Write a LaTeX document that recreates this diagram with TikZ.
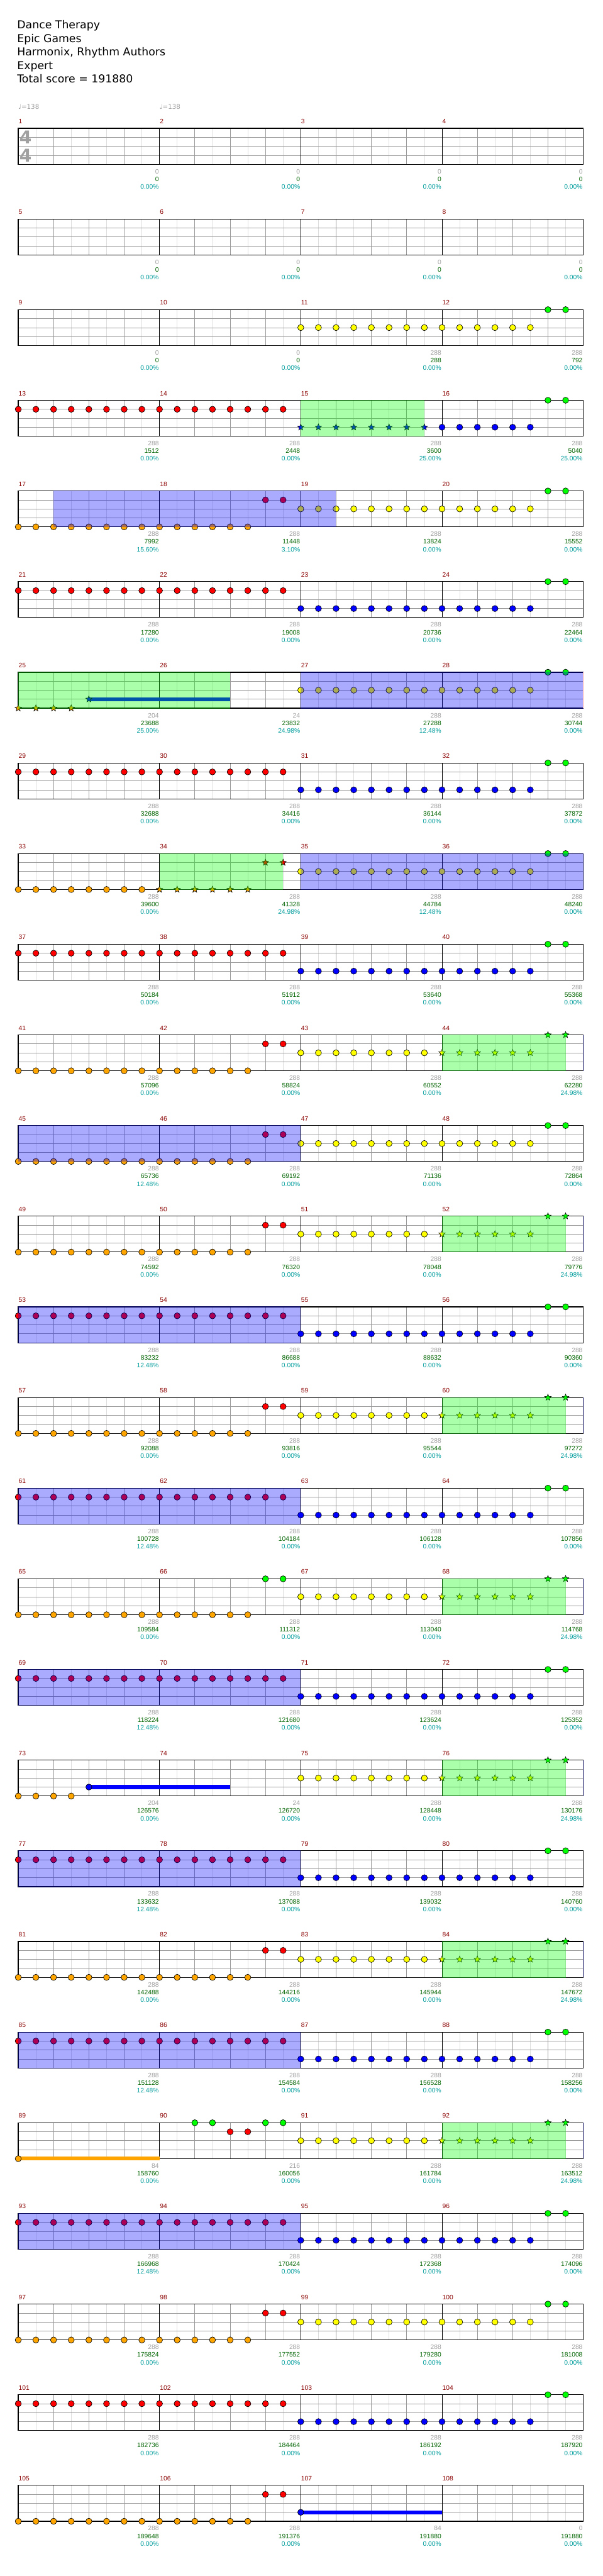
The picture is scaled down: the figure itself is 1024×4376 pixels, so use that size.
\documentclass[tikz,border=0pt]{standalone}
\usepackage{fontspec}
\setmainfont{Liberation Sans}
\newfontfamily\djv{DejaVu Sans}
\usetikzlibrary{shapes.geometric}
\definecolor{gridlt}{HTML}{DDDDDD}
\definecolor{gridmd}{HTML}{9A9A9A}
\definecolor{mnumc}{HTML}{8B0000}
\definecolor{lgray}{HTML}{A0A0A0}
\definecolor{lgreen}{HTML}{006400}
\definecolor{lteal}{HTML}{009C9C}
\definecolor{nred}{RGB}{255,0,0}
\definecolor{nyellow}{RGB}{255,255,0}
\definecolor{ngreen}{RGB}{0,255,0}
\definecolor{nblue}{RGB}{0,0,255}
\definecolor{norange}{RGB}{255,165,0}
\definecolor{navyedge}{RGB}{0,0,85}
\definecolor{pinkedge}{RGB}{255,170,170}
\tikzset{
  ltline/.style={gridlt,line width=0.8pt},
  mdline/.style={gridmd,line width=0.8pt},
  barline/.style={black,line width=0.8pt},
  frame/.style={black,line width=1.2pt},
  mnum/.style={anchor=base west,inner sep=0pt,text=mnumc,font=\fontsize{11}{13}\selectfont},
  labsty/.style={anchor=base east,inner sep=0pt,font=\fontsize{11}{13}\selectfont},
  starsty/.style={star,star points=5,star point ratio=2.3,minimum size=11.5pt,inner sep=0pt,draw=black,line width=0.6pt},
  hdr/.style={anchor=base west,inner sep=0pt,font=\djv\fontsize{18.5}{22}\selectfont},
  tsig/.style={inner sep=0pt,text=lgray,font=\djv\bfseries\fontsize{30}{30}\selectfont}
}
\newcommand\Grid[1]{%
  \pgfmathsetmacro\RowT{218+154*(#1-1)}%
  \pgfmathsetmacro\RowB{\RowT+61}%
  \foreach \i in {1,3,...,31} {\draw[ltline] ({31+30*\i},\RowT) -- ({31+30*\i},\RowB);}
  \foreach \i in {2,4,6,10,12,14,18,20,22,26,28,30} {\draw[mdline] ({31+30*\i},\RowT) -- ({31+30*\i},\RowB);}
  \foreach \l in {1,2,3} {\draw[mdline] (31,{\RowT+15.25*\l}) -- (991,{\RowT+15.25*\l});}
  \foreach \i in {8,16,24} {\draw[barline] ({31+30*\i},\RowT) -- ({31+30*\i},\RowB);}
  \draw[frame] (31,\RowT) rectangle (991,\RowB);
  \foreach \k in {0,1,2,3} {\pgfmathtruncatemacro\mn{4*(#1-1)+\k+1}\node[mnum] (m\mn) at ({31.5+240*\k},{\RowT-8}) {\mn};}
}
\newcommand\Nt[4]{\fill[#4,draw=black,line width=0.7pt] ({31+30*#2},{218+154*(#1-1)+15.25*#3}) circle[radius=5.2pt];}
\newcommand\Run[5]{\foreach \j in {#2,...,#3} {\Nt{#1}{\j}{#4}{#5}}}
\newcommand\St[4]{\node[starsty,fill=#4] at ({31+30*#2},{218+154*(#1-1)+15.25*#3}) {};}
\newcommand\Sts[5]{\foreach \j in {#2,...,#3} {\St{#1}{\j}{#4}{#5}}}
\newcommand\GReg[3]{\fill[green,fill opacity=0.333] (#2,{218+154*(#1-1)-0.6}) rectangle (#3,{218+154*(#1-1)+61.6});}
\newcommand\BReg[3]{\fill[blue,fill opacity=0.333] (#2,{218+154*(#1-1)-0.6}) rectangle (#3,{218+154*(#1-1)+61.6});}
\newcommand\Edge[2]{\draw[#2,line width=1.2pt] (991,{218+154*(#1-1)}) -- (991,{218+154*(#1-1)+61});}
\newcommand\Sus[5]{\pgfmathsetmacro\sy{218+154*(#1-1)+15.25*#4}\fill[#5] ({31+30*#2},{\sy-3.3}) rectangle (#3,{\sy+3.3});}
\newcommand\Lab[5]{%
  \pgfmathsetmacro\lx{31+240*#2-1}%
  \pgfmathsetmacro\ly{218+154*(#1-1)+61}%
  \node[labsty,text=lgray] (a#1-#2) at (\lx,{\ly+16}) {#3};
  \node[labsty,text=lgreen] (b#1-#2) at (\lx,{\ly+29}) {#4};
  \node[labsty,text=lteal] (c#1-#2) at (\lx,{\ly+42}) {#5\%};}
\newcommand\LabsStd[5]{\Lab{#1}{1}{288}{#2}{0.00}\Lab{#1}{2}{288}{#3}{0.00}\Lab{#1}{3}{288}{#4}{0.00}\Lab{#1}{4}{288}{#5}{0.00}}
\newcommand\LabsE[5]{\Lab{#1}{1}{288}{#2}{12.48}\Lab{#1}{2}{288}{#3}{0.00}\Lab{#1}{3}{288}{#4}{0.00}\Lab{#1}{4}{288}{#5}{0.00}}
\newcommand\LabsC[5]{\Lab{#1}{1}{288}{#2}{0.00}\Lab{#1}{2}{288}{#3}{0.00}\Lab{#1}{3}{288}{#4}{0.00}\Lab{#1}{4}{288}{#5}{24.98}}
\newcommand\PatA[1]{\Run{#1}{0}{15}{1}{nred}\Run{#1}{16}{29}{3}{nblue}\Run{#1}{30}{31}{0}{ngreen}}
\newcommand\PatE[1]{\PatA{#1}\BReg{#1}{31}{511}}
\newcommand\PatD[1]{\Run{#1}{0}{13}{4}{norange}\Run{#1}{14}{15}{1}{nred}\Run{#1}{16}{29}{2}{nyellow}\Run{#1}{30}{31}{0}{ngreen}}
\newcommand\PatC[1]{\Run{#1}{0}{13}{4}{norange}\Run{#1}{14}{15}{1}{nred}\Run{#1}{16}{23}{2}{nyellow}\Sts{#1}{24}{29}{2}{nyellow}\Sts{#1}{30}{31}{0}{ngreen}\GReg{#1}{751}{961}\Edge{#1}{navyedge}}
\begin{document}
\begin{tikzpicture}[x=1pt,y=-1pt]
\useasboundingbox (0,0) rectangle (1024,4376);
\fill[white] (0,0) rectangle (1024,4376);
% header
\node[hdr] (h1) at (29,49) {Dance Therapy};
\node[hdr] (h2) at (29,72) {Epic Games};
\node[hdr] (h3) at (29,95) {Harmonix, Rhythm Authors};
\node[hdr] (h4) at (29,118) {Expert};
\node[hdr] (h5) at (29,141) {Total score = 191880};
\node[anchor=base west,inner sep=0pt,text=lgray,font=\djv\fontsize{11}{13}\selectfont] (t1) at (31,185) {♩=138};
\node[anchor=base west,inner sep=0pt,text=lgray,font=\djv\fontsize{11}{13}\selectfont] (t2) at (271,185) {♩=138};
% grids
\foreach \r in {1,...,27} {\Grid{\r}}
\node[tsig] (ts1) at (43.5,233.5) {4};
\node[tsig] (ts2) at (43.5,264) {4};
% row 3
\Run{3}{16}{29}{2}{nyellow}\Run{3}{30}{31}{0}{ngreen}
% row 4
\Run{4}{0}{15}{1}{nred}\Sts{4}{16}{23}{3}{nblue}\Run{4}{24}{29}{3}{nblue}\Run{4}{30}{31}{0}{ngreen}\GReg{4}{511}{721}
% row 5
\PatD{5}\BReg{5}{91}{571}
% row 6
\PatA{6}
% row 7
\Sts{7}{0}{3}{4}{norange}\Sus{7}{4}{391}{3}{nblue}\St{7}{4}{3}{nblue}
\Run{7}{16}{29}{2}{nyellow}\Run{7}{30}{31}{0}{ngreen}\GReg{7}{31}{391}\BReg{7}{511}{991}\Edge{7}{pinkedge}
% row 8
\PatA{8}
% row 9
\Run{9}{0}{7}{4}{norange}\Sts{9}{8}{13}{4}{norange}\Sts{9}{14}{15}{1}{nred}
\Run{9}{16}{29}{2}{nyellow}\Run{9}{30}{31}{0}{ngreen}\GReg{9}{271}{481}\BReg{9}{511}{991}
% row 10
\PatA{10}
\PatC{11}
\PatD{12}\BReg{12}{31}{511}
\PatC{13}
\PatE{14}
\PatC{15}
\PatE{16}
% row 17
\Run{17}{0}{13}{4}{norange}\Run{17}{14}{15}{0}{ngreen}\Run{17}{16}{23}{2}{nyellow}\Sts{17}{24}{29}{2}{nyellow}\Sts{17}{30}{31}{0}{ngreen}\GReg{17}{751}{961}\Edge{17}{navyedge}
\PatE{18}
% row 19
\Run{19}{0}{3}{4}{norange}\Sus{19}{4}{391}{3}{nblue}\Nt{19}{4}{3}{nblue}
\Run{19}{16}{23}{2}{nyellow}\Sts{19}{24}{29}{2}{nyellow}\Sts{19}{30}{31}{0}{ngreen}\GReg{19}{751}{961}\Edge{19}{navyedge}
\PatE{20}
\PatC{21}
\PatE{22}
% row 23
\Sus{23}{0}{271}{4}{norange}\Nt{23}{0}{4}{norange}
\Run{23}{10}{11}{0}{ngreen}\Run{23}{12}{13}{1}{nred}\Run{23}{14}{15}{0}{ngreen}
\Run{23}{16}{23}{2}{nyellow}\Sts{23}{24}{29}{2}{nyellow}\Sts{23}{30}{31}{0}{ngreen}\GReg{23}{751}{961}\Edge{23}{navyedge}
\PatE{24}
\PatD{25}
\PatA{26}
% row 27
\Run{27}{0}{13}{4}{norange}\Run{27}{14}{15}{1}{nred}\Sus{27}{16}{751}{3}{nblue}\Nt{27}{16}{3}{nblue}
% labels
\Lab{1}{1}{0}{0}{0.00}\Lab{1}{2}{0}{0}{0.00}\Lab{1}{3}{0}{0}{0.00}\Lab{1}{4}{0}{0}{0.00}
\Lab{2}{1}{0}{0}{0.00}\Lab{2}{2}{0}{0}{0.00}\Lab{2}{3}{0}{0}{0.00}\Lab{2}{4}{0}{0}{0.00}
\Lab{3}{1}{0}{0}{0.00}\Lab{3}{2}{0}{0}{0.00}\Lab{3}{3}{288}{288}{0.00}\Lab{3}{4}{288}{792}{0.00}
\Lab{4}{1}{288}{1512}{0.00}\Lab{4}{2}{288}{2448}{0.00}\Lab{4}{3}{288}{3600}{25.00}\Lab{4}{4}{288}{5040}{25.00}
\Lab{5}{1}{288}{7992}{15.60}\Lab{5}{2}{288}{11448}{3.10}\Lab{5}{3}{288}{13824}{0.00}\Lab{5}{4}{288}{15552}{0.00}
\LabsStd{6}{17280}{19008}{20736}{22464}
\Lab{7}{1}{204}{23688}{25.00}\Lab{7}{2}{24}{23832}{24.98}\Lab{7}{3}{288}{27288}{12.48}\Lab{7}{4}{288}{30744}{0.00}
\LabsStd{8}{32688}{34416}{36144}{37872}
\Lab{9}{1}{288}{39600}{0.00}\Lab{9}{2}{288}{41328}{24.98}\Lab{9}{3}{288}{44784}{12.48}\Lab{9}{4}{288}{48240}{0.00}
\LabsStd{10}{50184}{51912}{53640}{55368}
\LabsC{11}{57096}{58824}{60552}{62280}
\LabsE{12}{65736}{69192}{71136}{72864}
\LabsC{13}{74592}{76320}{78048}{79776}
\LabsE{14}{83232}{86688}{88632}{90360}
\LabsC{15}{92088}{93816}{95544}{97272}
\LabsE{16}{100728}{104184}{106128}{107856}
\LabsC{17}{109584}{111312}{113040}{114768}
\LabsE{18}{118224}{121680}{123624}{125352}
\Lab{19}{1}{204}{126576}{0.00}\Lab{19}{2}{24}{126720}{0.00}\Lab{19}{3}{288}{128448}{0.00}\Lab{19}{4}{288}{130176}{24.98}
\LabsE{20}{133632}{137088}{139032}{140760}
\LabsC{21}{142488}{144216}{145944}{147672}
\LabsE{22}{151128}{154584}{156528}{158256}
\Lab{23}{1}{84}{158760}{0.00}\Lab{23}{2}{216}{160056}{0.00}\Lab{23}{3}{288}{161784}{0.00}\Lab{23}{4}{288}{163512}{24.98}
\LabsE{24}{166968}{170424}{172368}{174096}
\LabsStd{25}{175824}{177552}{179280}{181008}
\LabsStd{26}{182736}{184464}{186192}{187920}
\Lab{27}{1}{288}{189648}{0.00}\Lab{27}{2}{288}{191376}{0.00}\Lab{27}{3}{84}{191880}{0.00}\Lab{27}{4}{0}{191880}{0.00}
\end{tikzpicture}
\end{document}
